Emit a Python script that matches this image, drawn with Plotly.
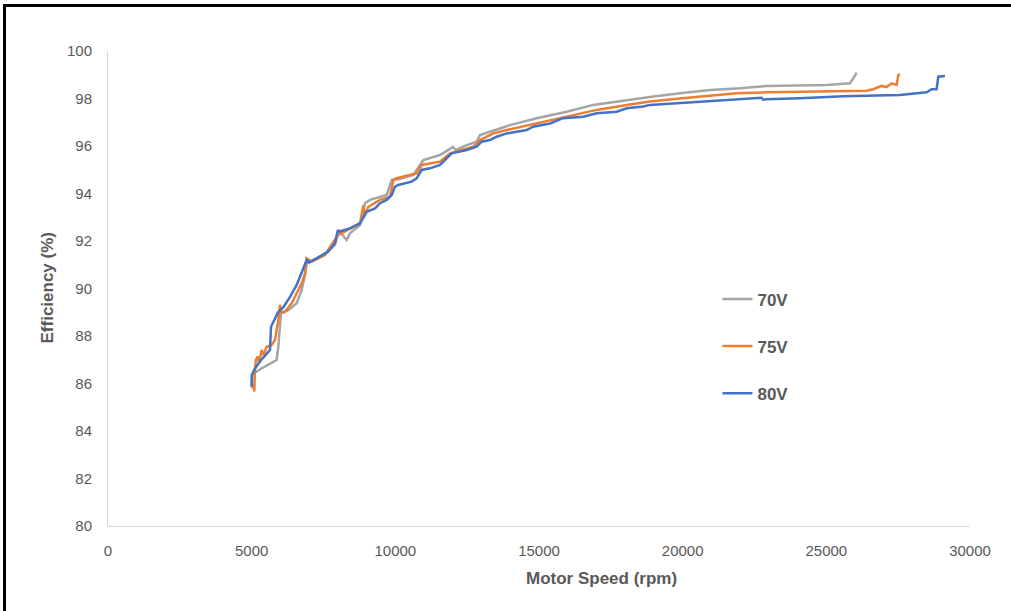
import plotly.graph_objects as go

# ---- data ----
speed_70v = [5000, 5010, 5347, 5696, 5870, 5928, 5986, 6021, 6276, 6567,
             6741, 6856, 6914, 7100, 7550, 7900, 8000, 8100, 8305, 8420,
             8770, 8944, 9118, 9466, 9698, 9873, 10100, 10626, 10858, 10974,
             11554, 11902, 12000, 12100, 12482, 12830, 12946, 13294, 13990, 14919,
             15962, 16889, 18051, 18977, 19906, 20950, 21994, 22921, 25010, 25822,
             25938, 26054]
eff_70v = [85.8, 86.36, 86.64, 86.85, 86.99, 87.55, 88.67, 88.95, 89.09, 89.38,
           89.94, 90.57, 91.06, 91.15, 91.45, 91.85, 92.3, 92.35, 92.04, 92.32,
           92.67, 93.59, 93.73, 93.87, 93.94, 94.57, 94.6, 94.78, 95.2, 95.41,
           95.62, 95.9, 95.95, 95.83, 96.04, 96.18, 96.46, 96.6, 96.88, 97.17,
           97.44, 97.73, 97.94, 98.08, 98.22, 98.36, 98.43, 98.53, 98.57, 98.64,
           98.85, 99.09]

speed_75v = [5050, 5092, 5110, 5150, 5208, 5260, 5347, 5420, 5522, 5696,
             5812, 5927, 5986, 6030, 6160, 6392, 6566, 6741, 6856, 6914,
             7089, 7552, 8000, 8420, 8770, 8886, 8920, 9060, 9466, 9814,
             9930, 10046, 10742, 10916, 11554, 11902, 12714, 12946, 13410, 13874,
             14919, 15846, 17007, 18051, 18862, 19900, 20602, 21878, 22921, 26400,
             26632, 26925, 27100, 27270, 27446, 27504, 27562]
eff_75v = [86.0, 85.66, 86.5, 87.0, 87.13, 86.9, 87.41, 87.2, 87.55, 87.62,
           87.83, 88.67, 89.31, 89.0, 89.02, 89.38, 89.8, 90.22, 90.64, 91.27,
           91.13, 91.41, 92.25, 92.5, 92.74, 93.5, 93.1, 93.44, 93.73, 93.87,
           94.57, 94.64, 94.85, 95.2, 95.34, 95.69, 95.97, 96.25, 96.53, 96.67,
           96.95, 97.23, 97.52, 97.73, 97.87, 98.0, 98.08, 98.22, 98.26, 98.33,
           98.39, 98.53, 98.48, 98.64, 98.57, 98.99, 99.03]

speed_80v = [5000, 5005, 5100, 5300, 5638, 5673, 5927, 6100, 6334, 6567,
             6914, 7000, 7300, 7656, 7900, 8000, 8050, 8420, 8770, 8944,
             9002, 9292, 9466, 9698, 9873, 9988, 10103, 10568, 10742, 10916,
             11206, 11554, 11786, 11960, 12482, 12830, 13004, 13294, 13526, 13874,
             14222, 14571, 14790, 15382, 15834, 16541, 17007, 17703, 18051, 18630,
             18862, 20602, 21760, 22747, 22800, 22921, 24082, 25010, 25590, 27562,
             28026, 28490, 28664, 28838, 28896, 29128]
eff_80v = [85.87, 86.36, 86.6, 86.95, 87.41, 88.39, 89.02, 89.2, 89.65, 90.15,
           91.2, 91.1, 91.3, 91.55, 91.9, 92.46, 92.4, 92.53, 92.74, 93.09,
           93.23, 93.37, 93.59, 93.73, 93.94, 94.29, 94.36, 94.5, 94.64, 94.99,
           95.06, 95.2, 95.48, 95.69, 95.83, 95.97, 96.18, 96.25, 96.39, 96.53,
           96.6, 96.67, 96.81, 96.95, 97.17, 97.23, 97.38, 97.44, 97.59, 97.66,
           97.73, 97.87, 97.94, 98.03, 97.95, 97.97, 98.01, 98.08, 98.1, 98.15,
           98.22, 98.26, 98.39, 98.39, 98.92, 98.95]

series_names = ["70V", "75V", "80V"]
series_colors = ["#A5A5A5", "#ED7D31", "#4472C4"]
x_tick_vals = [0, 5000, 10000, 15000, 20000, 25000, 30000]
x_tick_text = ["0", "5000", "10000", "15000", "20000", "25000", "30000"]
y_tick_vals = [80, 82, 84, 86, 88, 90, 92, 94, 96, 98, 100]
y_tick_text = ["80", "82", "84", "86", "88", "90", "92", "94", "96", "98", "100"]

FONT = "Liberation Sans Narrow, Liberation Sans, Arial, sans-serif"
TXT = "#595959"

fig = go.Figure()
for name, xs, ys, col in zip(series_names,
                             [speed_70v, speed_75v, speed_80v],
                             [eff_70v, eff_75v, eff_80v],
                             series_colors):
    fig.add_trace(go.Scatter(x=xs, y=ys, mode="lines", name=name,
                             legendgroup=name,
                             line=dict(color=col, width=2.5)))

fig.update_layout(
    width=1011, height=611,
    margin=dict(l=108, r=41, t=51, b=85),
    paper_bgcolor="white", plot_bgcolor="white",
    font=dict(family=FONT, color=TXT, size=15),
    showlegend=True,
    legend=dict(x=0.707, y=0.515, xanchor="left", yanchor="top",
                bgcolor="rgba(0,0,0,0)", tracegroupgap=22,
                font=dict(family=FONT, size=17, color=TXT, weight="bold")),
    xaxis=dict(range=[0, 30000], tickvals=x_tick_vals, ticktext=x_tick_text,
               showgrid=False, zeroline=False, showline=True,
               linecolor="#D9D9D9", linewidth=1, ticks="",
               ticklabelstandoff=11,
               tickfont=dict(family=FONT, size=15, color=TXT)),
    yaxis=dict(range=[80, 100], tickvals=y_tick_vals, ticktext=y_tick_text,
               showgrid=False, zeroline=False, showline=True,
               linecolor="#D9D9D9", linewidth=1, ticks="",
               ticklabelstandoff=12,
               tickfont=dict(family=FONT, size=15, color=TXT)),
)

# axis titles
fig.add_annotation(text="Motor Speed (rpm)", xref="paper", yref="paper",
                   x=(601 - 108) / 862, y=-(578 - 526) / 475,
                   showarrow=False, xanchor="center", yanchor="middle",
                   font=dict(family=FONT, size=17, color=TXT, weight="bold"))
fig.add_annotation(text="Efficiency (%)", xref="paper", yref="paper",
                   x=-(108 - 47) / 862, y=0.5, textangle=-90,
                   showarrow=False, xanchor="center", yanchor="middle",
                   font=dict(family=FONT, size=17, color=TXT, weight="bold"))

# black frame on top and left edges of the image
fig.add_shape(type="line", xref="paper", yref="paper",
              x0=-105 / 862, x1=(1011 - 108) / 862,
              y0=(526 - 5.5) / 475, y1=(526 - 5.5) / 475,
              line=dict(color="black", width=3))
fig.add_shape(type="line", xref="paper", yref="paper",
              x0=-(108 - 4.5) / 862, x1=-(108 - 4.5) / 862,
              y0=(526 - 4) / 475, y1=-(611 - 526) / 475,
              line=dict(color="black", width=3))

fig.write_html("out.html")
